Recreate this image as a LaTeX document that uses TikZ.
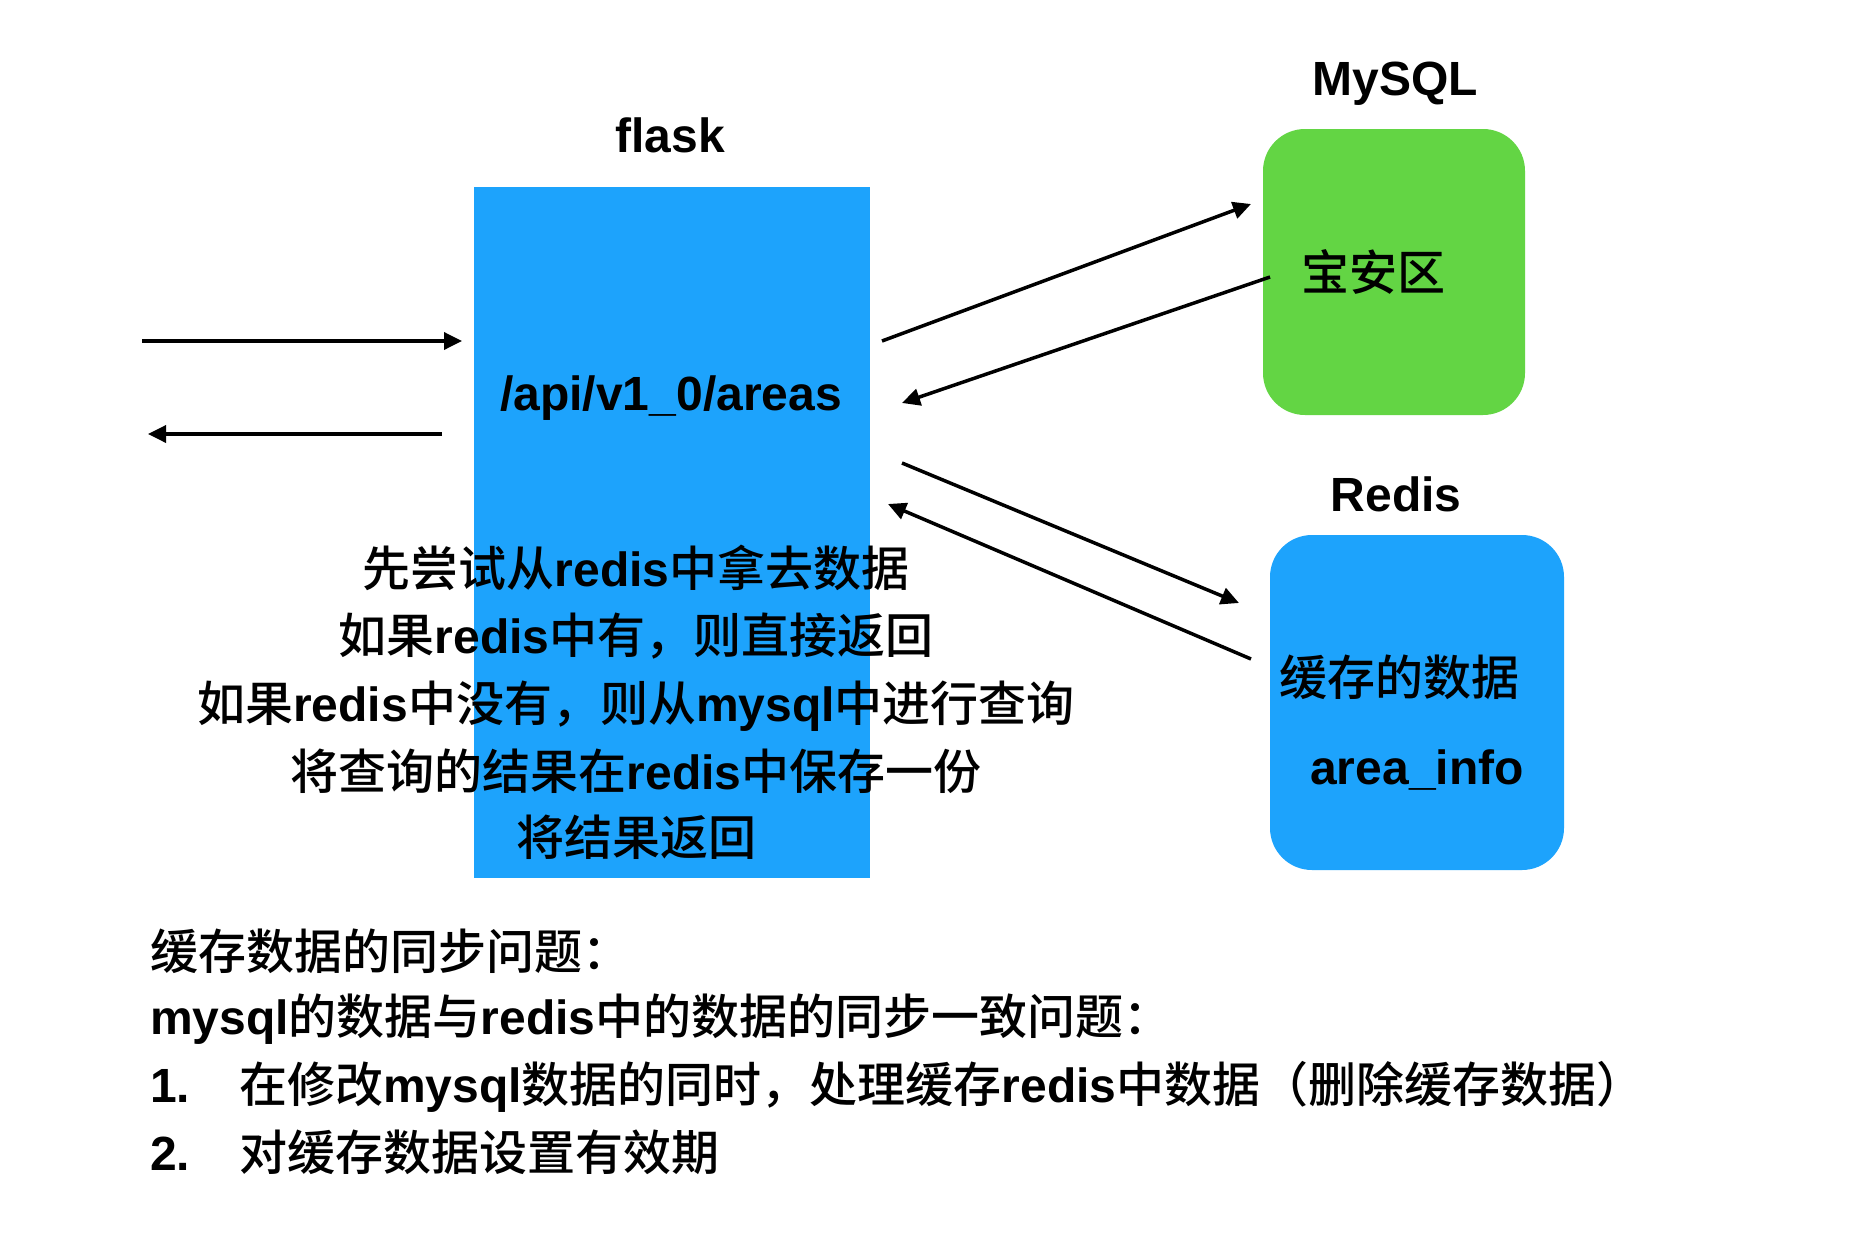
\documentclass[tikz,border=0pt]{standalone}
\usepackage{fontspec}
\setmainfont{Liberation Sans}
\newfontfamily\cjk{Noto Sans CJK SC}[BoldFont={Noto Sans CJK SC Medium}]
\usetikzlibrary{arrows.meta}
\definecolor{flaskblue}{RGB}{29,163,252}
\definecolor{mygreen}{RGB}{99,213,68}
\newcommand\zh[1]{{\cjk\bfseries #1}}
\begin{document}
\begin{tikzpicture}[x=1pt,y=-1pt,
  txt/.style={font=\fontsize{48}{56}\selectfont\bfseries, inner sep=0pt, anchor=base},
  ltxt/.style={txt, anchor=base west},
  arr/.style={line width=3.5pt, -{Triangle[length=18pt,width=17pt]}},
  box/.style={inner sep=0pt, draw=none}
]
\useasboundingbox[fill=white] (0,0) rectangle (1868,1250);

% boxes
\node[box, fill=flaskblue, minimum width=396pt, minimum height=691pt] (flaskbox) at (672,532.5) {};
\node[box, fill=mygreen, rounded corners=42pt, minimum width=262pt, minimum height=286pt] (mysqlbox) at (1394,272) {};
\node[box, fill=flaskblue, rounded corners=42pt, minimum width=294pt, minimum height=335pt] (redisbox) at (1417,702.5) {};

% titles
\node[txt] (flasklbl) at (670,152) {flask};
\node[txt] (mysqllbl) at (1395,95) {MySQL};
\node[txt] (redislbl) at (1396,511) {Redis};

% box texts
\node[txt] (api) at (671,410) {/api/v1\_0/areas};
\node[txt] (baoan) at (1373,290) {\zh{宝安区}};
\node[txt] (cache) at (1399,695) {\zh{缓存的数据}};
\node[txt] (areainfo) at (1417,784) {area\_info};

% center explanation
\node[txt] (c1) at (636,586) {\zh{先尝试从}redis\zh{中拿去数据}};
\node[txt] (c2) at (636,653) {\zh{如果}redis\zh{中有，则直接返回}};
\node[txt] (c3) at (636,721) {\zh{如果}redis\zh{中没有，则从}mysql\zh{中进行查询}};
\node[txt] (c4) at (636,789) {\zh{将查询的结果在}redis\zh{中保存一份}};
\node[txt] (c5) at (636,855) {\zh{将结果返回}};

% bottom text
\node[ltxt] (b1) at (150,969) {\zh{缓存数据的同步问题：}};
\node[ltxt] (b2) at (150,1034) {mysql\zh{的数据与}redis\zh{中的数据的同步一致问题：}};
\node[ltxt] (b3n) at (150,1102) {1.};
\node[ltxt] (b3) at (239,1102) {\zh{在修改}mysql\zh{数据的同时，处理缓存}redis\zh{中数据（删除缓存数据）}};
\node[ltxt] (b4n) at (150,1170) {2.};
\node[ltxt] (b4) at (239,1170) {\zh{对缓存数据设置有效期}};

% connector end points
\coordinate (inS) at (142,341);
\coordinate (inE) at (462,341);
\coordinate (outS) at (442,434);
\coordinate (outE) at (148,434);
\coordinate (m1S) at (882,341);
\coordinate (m1E) at (1251,204);
\coordinate (m2S) at (1270,277);
\coordinate (m2E) at (902,403);
\coordinate (r1S) at (902,463);
\coordinate (r1E) at (1239,603);
\coordinate (r2S) at (1251,659);
\coordinate (r2E) at (888,504);

\draw[arr] (inS) -- (inE);
\draw[arr] (outS) -- (outE);
\draw[arr] (m1S) -- (m1E);
\draw[arr] (m2S) -- (m2E);
\draw[arr] (r1S) -- (r1E);
\draw[arr] (r2S) -- (r2E);
\end{tikzpicture}
\end{document}
